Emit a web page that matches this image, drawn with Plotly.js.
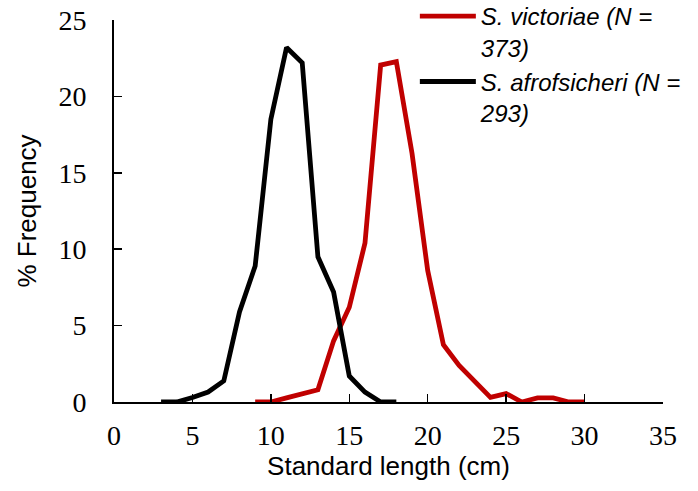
<!DOCTYPE html>
<html>
<head>
<meta charset="utf-8">
<script src="https://cdn.plot.ly/plotly-3.0.1.min.js"></script>
<style>html,body{margin:0;padding:0;background:#fff;}#chart{width:698px;height:491px;}</style>
</head>
<body>
<div id="chart"></div>
<script>
// Standard length (cm) bins
var victoriaeLength = [9,10,11,12,13,14,15,16,17,18,19,20,21,22,23,24,25,26,27,28,29,30];
var victoriaeFreq   = [0,0,0.27,0.53,0.8,4.0,6.2,10.4,22.05,22.27,16.27,8.6,3.75,2.4,1.3,0.3,0.55,0,0.27,0.27,0,0];
var afrofsicheriLength = [3,4,5,6,7,8,9,10,11,12,13,14,15,16,17,18];
var afrofsicheriFreq   = [0,0,0.29,0.65,1.38,5.9,8.9,18.5,23.2,22.2,9.5,7.2,1.7,0.65,0,0];
var seriesNames = ["S. victoriae (N =<br>373)", "S. afrofsicheri (N =<br>293)"];
var xTicks = [0,5,10,15,20,25,30,35];
var yTicks = [0,5,10,15,20,25];

var traces = [
  {x: victoriaeLength, y: victoriaeFreq, name: seriesNames[0], type: 'scatter', mode: 'lines',
   line: {color: '#C00000', width: 4.8}},
  {x: afrofsicheriLength, y: afrofsicheriFreq, name: seriesNames[1], type: 'scatter', mode: 'lines',
   line: {color: '#000000', width: 4.8}}
];

var layout = {
  width: 698, height: 491,
  margin: {l: 114, r: 35, t: 20, b: 89, autoexpand: false},
  paper_bgcolor: '#fff', plot_bgcolor: '#fff',
  showlegend: true,
  legend: {x: 0.548, xanchor: 'left', y: 1.068, yanchor: 'top', valign: 'top', bgcolor: 'rgba(0,0,0,0)',
           font: {family: 'Liberation Sans, Arial, sans-serif', size: 24, color: '#000', style: 'italic'},
           itemwidth: 56, tracegroupgap: 0},
  xaxis: {range: [0, 35], tickvals: xTicks, ticktext: xTicks.map(String),
          ticks: 'inside', ticklen: 8, tickwidth: 1.5, tickcolor: '#000', ticklabelstandoff: 7,
          showline: true, linecolor: '#000', linewidth: 2, showgrid: false, zeroline: false,
          tickfont: {family: 'Liberation Serif, Times New Roman, serif', size: 28, color: '#000'},
          title: {text: 'Standard length (cm)', font: {family: 'Liberation Sans, Arial, sans-serif', size: 26, color: '#000'}, standoff: 6}},
  yaxis: {range: [0, 25], tickvals: yTicks, ticktext: yTicks.map(String),
          ticks: 'inside', ticklen: 8, tickwidth: 1.5, tickcolor: '#000', ticklabelstandoff: 20,
          showline: true, linecolor: '#000', linewidth: 2, showgrid: false, zeroline: false,
          tickfont: {family: 'Liberation Serif, Times New Roman, serif', size: 28, color: '#000'},
          title: {text: '% Frequency', font: {family: 'Liberation Sans, Arial, sans-serif', size: 26, color: '#000'}, standoff: 14}}
};

Plotly.newPlot('chart', traces, layout, {displayModeBar: false, staticPlot: true});
</script>
</body>
</html>
